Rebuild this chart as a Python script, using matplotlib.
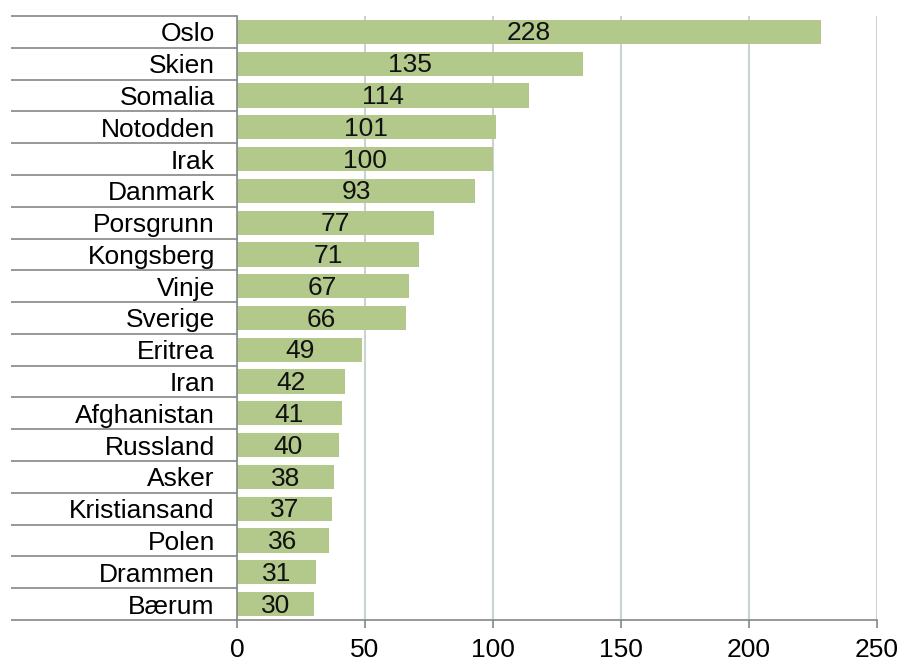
import numpy as np
import matplotlib
matplotlib.use('Agg')
import matplotlib.pyplot as plt

places = ['Oslo', 'Skien', 'Somalia', 'Notodden', 'Irak', 'Danmark', 'Porsgrunn',
          'Kongsberg', 'Vinje', 'Sverige', 'Eritrea', 'Iran', 'Afghanistan',
          'Russland', 'Asker', 'Kristiansand', 'Polen', 'Drammen', 'Bærum']
counts = [228, 135, 114, 101, 100, 93, 77, 71, 67, 66, 49, 42, 41, 40, 38, 37, 36, 31, 30]
xticks = [0, 50, 100, 150, 200, 250]

plt.rcParams['font.family'] = ['Liberation Sans', 'DejaVu Sans']
FS = 19

fig = plt.figure(figsize=(9.02, 6.61), dpi=100)
ax = fig.add_axes([237 / 902, 1 - 620 / 661, 640 / 902, 604 / 661])

y = np.arange(len(places))
ax.barh(y, counts, height=0.76, color='#b3c88b', zorder=2)
for yi, v in zip(y, counts):
    ax.text(v / 2, yi + 0.05, str(v), ha='center', va='center', fontsize=FS, color='#111111', zorder=3)

ax.set_ylim(len(places) - 0.5, -0.5)
ax.set_xlim(0, 250)
ax.set_xticks(xticks)
ax.set_yticks(y)
ax.set_yticklabels(places, fontsize=FS)
ax.set_yticks(np.arange(len(places) + 1) - 0.5, minor=True)

ax.tick_params(axis='y', which='major', length=0, pad=16)
ax.tick_params(axis='y', which='minor', length=163, width=1.2, color='#868686', direction='out')
ax.tick_params(axis='x', which='major', length=6, width=1.2, color='#868686', labelsize=FS, pad=7)

ax.grid(axis='x', color='#c8d4d0', linewidth=1.5, zorder=0)
ax.set_axisbelow(True)
for s in ['top', 'right']:
    ax.spines[s].set_visible(False)
for s in ['left', 'bottom']:
    ax.spines[s].set_color('#868686')
    ax.spines[s].set_linewidth(1.2)

fig.savefig('out.png', dpi=100)
